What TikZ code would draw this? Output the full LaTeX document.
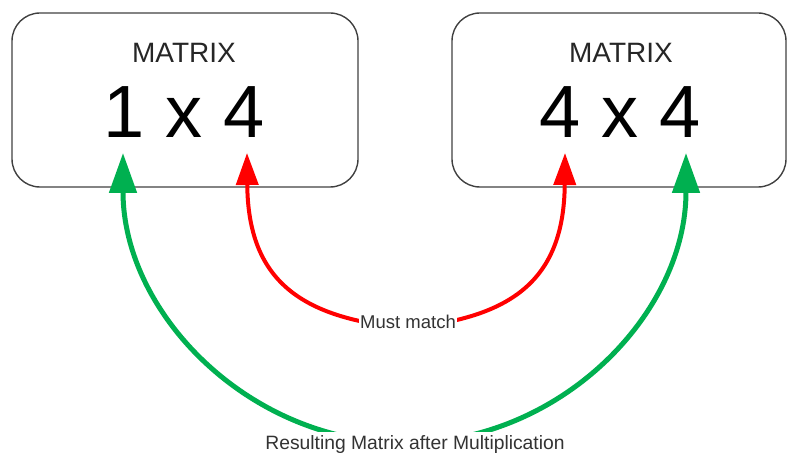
\documentclass[tikz,border=0pt]{standalone}
\usepackage{fontspec}
\setmainfont{Liberation Sans}
\usetikzlibrary{arrows.meta}
\definecolor{offgreen}{RGB}{0,176,80}
\definecolor{boxline}{RGB}{64,64,64}
\definecolor{labeltext}{RGB}{51,51,51}
\tikzset{
  matbox/.style={draw=boxline, line width=1.4pt, rounded corners=28pt, minimum width=346pt, minimum height=174pt, inner sep=0pt},
  mattitle/.style={inner sep=0pt, text=black!85, font=\fontsize{28}{30}\selectfont},
  matdim/.style={inner sep=0pt, text=black, font=\fontsize{74}{80}\selectfont},
  greenarrow/.style={draw=offgreen, line width=5pt, {Triangle[length=40pt,width=27pt]}-{Triangle[length=40pt,width=27pt]}},
  redarrow/.style={draw=red, line width=4pt, {Triangle[length=32pt,width=22pt]}-{Triangle[length=32pt,width=22pt]}},
  curvelabel/.style={fill=white, text=labeltext, inner xsep=1pt, inner ysep=3pt}
}
\begin{document}
\begin{tikzpicture}[x=1pt,y=-1pt]
\useasboundingbox (0,0) rectangle (787,454);
% boxes
\node[matbox] (boxL) at (185,100) {};
\node[matbox, minimum width=334pt] (boxR) at (619,100) {};
\node[mattitle] (titleL) at (184,53) {MATRIX};
\node[mattitle] (titleR) at (621,53) {MATRIX};
\node[matdim] (dimL) at (184,112) {1 x 4};
\node[matdim] (dimR) at (620,112) {4 x 4};
% arrow tips and curve bottoms
\coordinate (gL) at (123,153);
\coordinate (gR) at (686,153);
\coordinate (gMid) at (405,443);
\coordinate (rL) at (247,153);
\coordinate (rR) at (565,153);
\coordinate (rMid) at (406,328);
% connectors
\draw[greenarrow] (gL) .. controls (123,313) and (249,443) .. (gMid)
                       .. controls (561,443) and (686,313) .. (gR);
\draw[redarrow] (rL) .. controls (248,280) and (300,318) .. (rMid)
                     .. controls (512,318) and (564,280) .. (rR);
% labels
\node[curvelabel, font=\fontsize{18.5}{20}\selectfont] (mustmatch) at (408,322) {Must match};
\node[curvelabel, anchor=base, font=\fontsize{19.3}{21}\selectfont] (resulting) at (415,449) {Resulting Matrix after Multiplication};
\end{tikzpicture}
\end{document}
